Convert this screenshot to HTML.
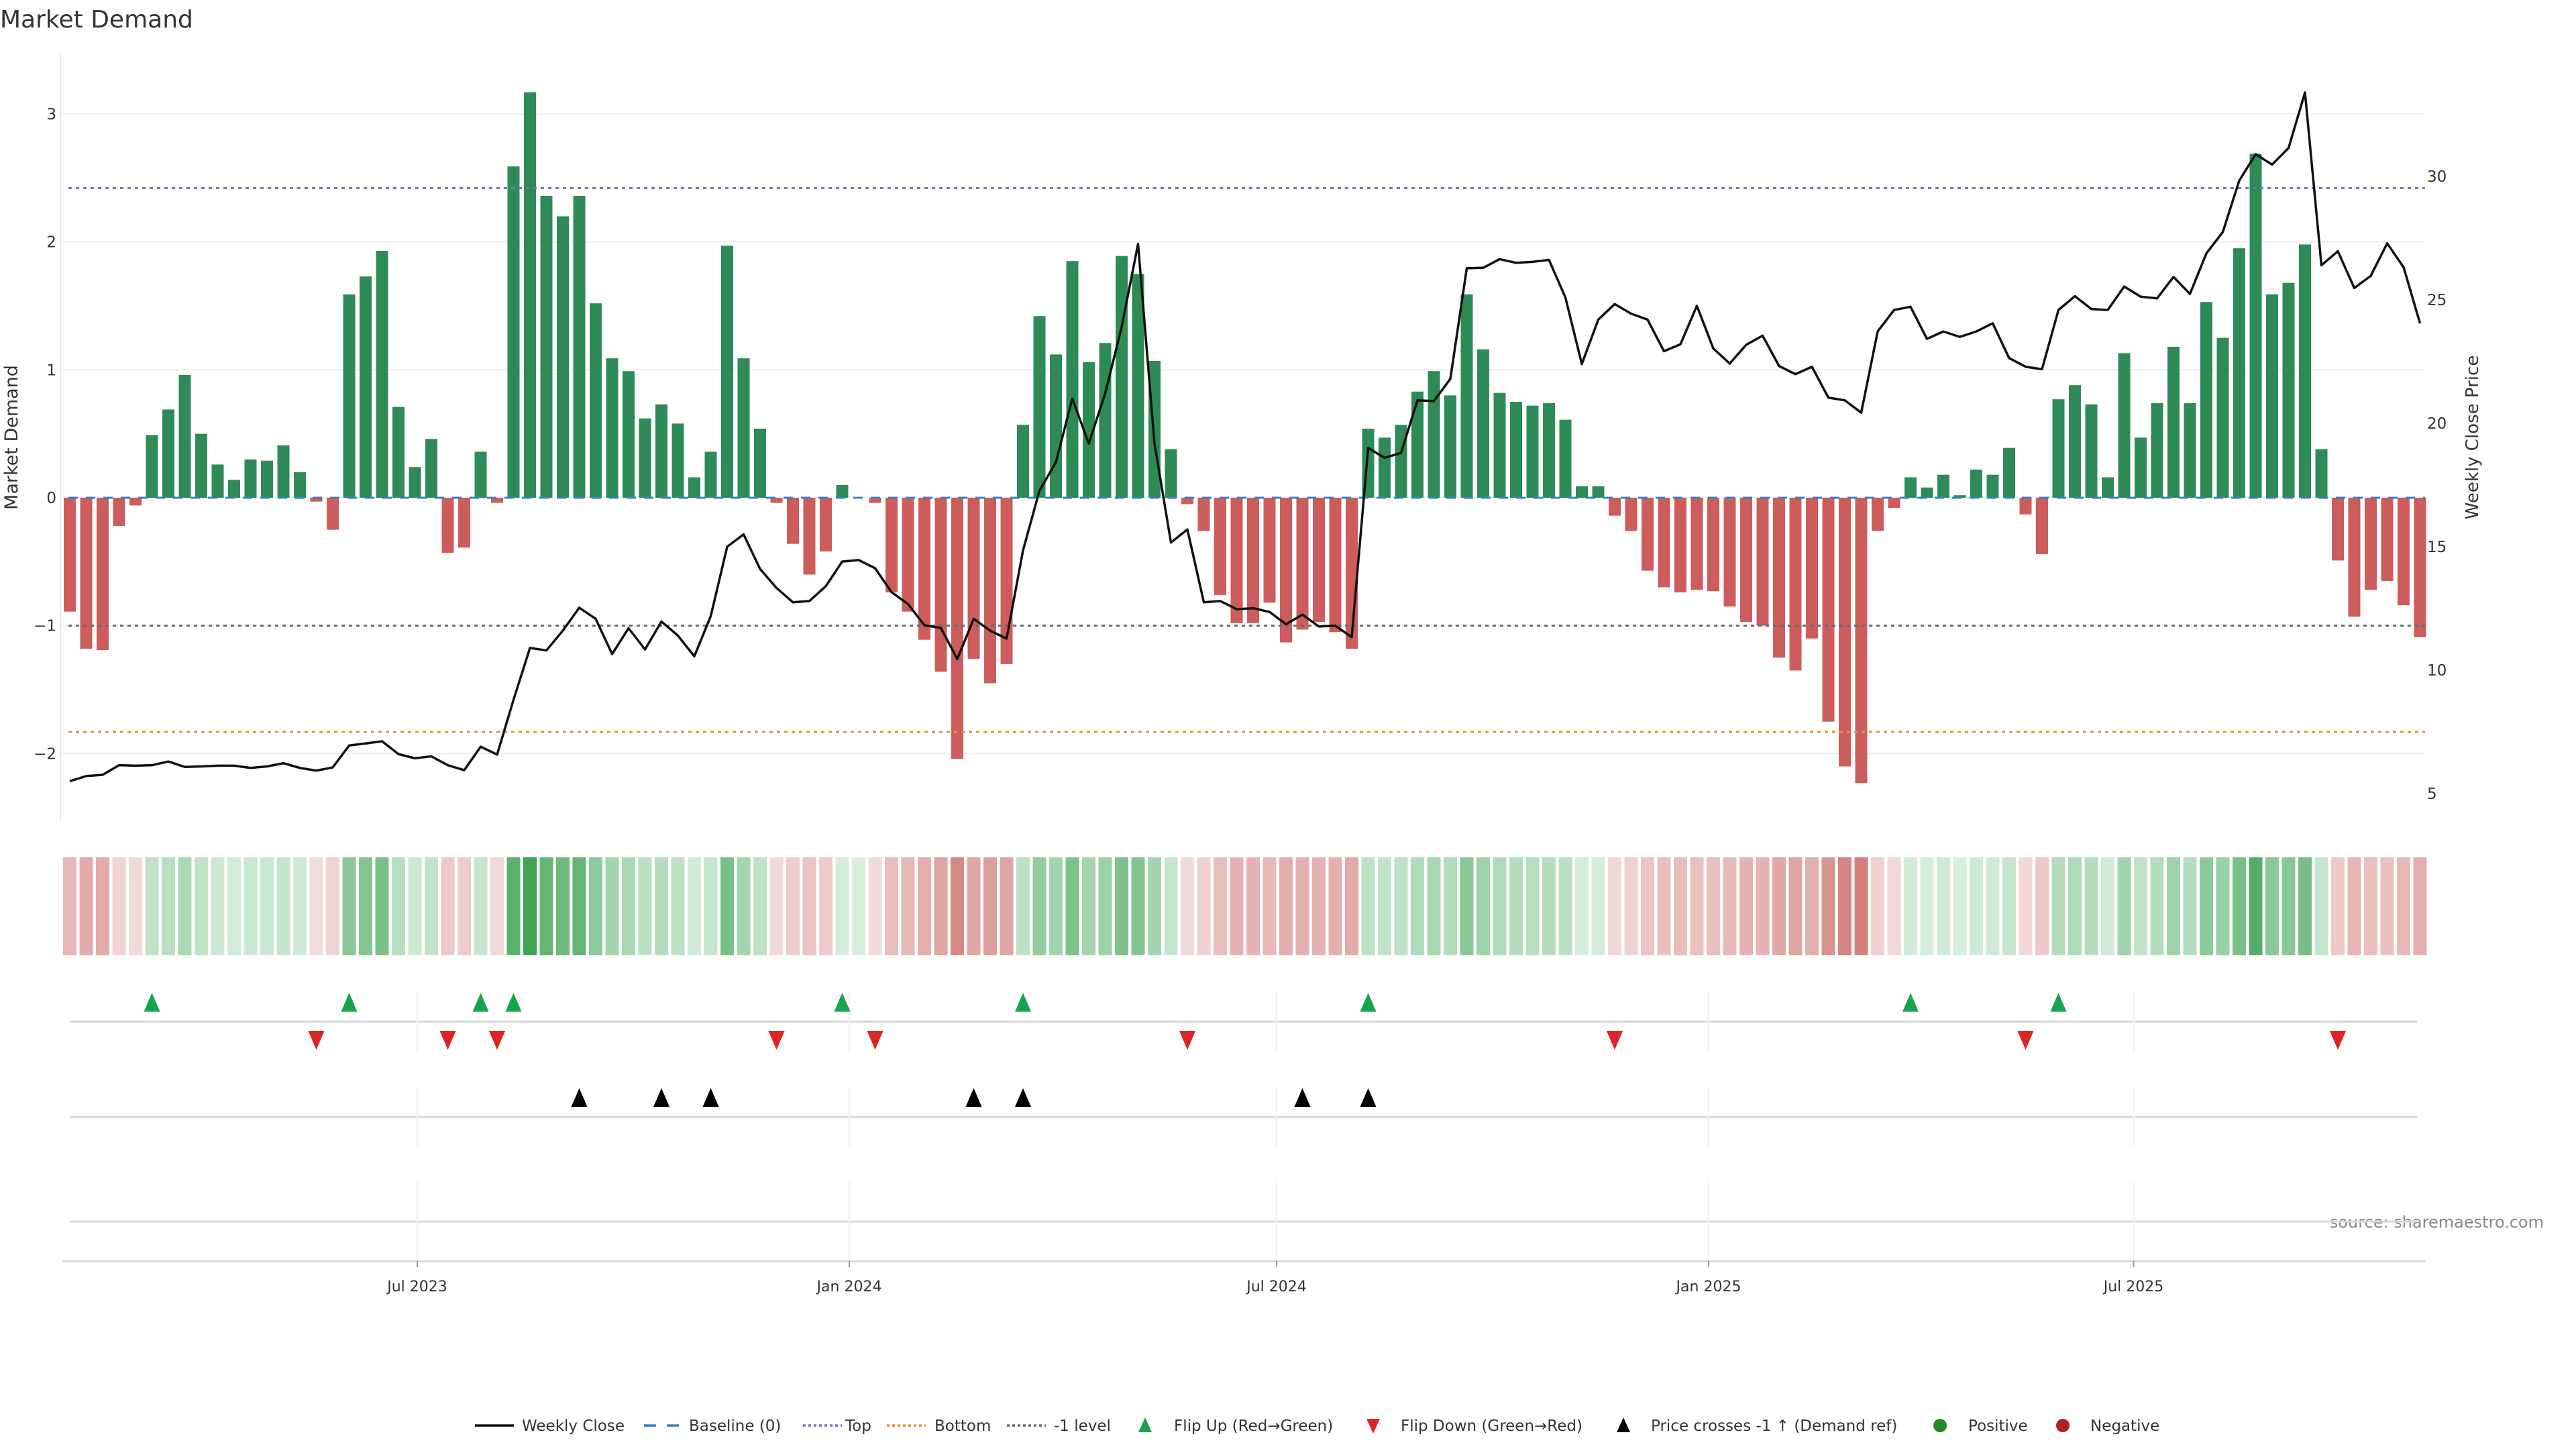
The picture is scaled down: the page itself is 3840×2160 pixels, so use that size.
<!DOCTYPE html>
<html><head><meta charset="utf-8"><style>
html,body{margin:0;padding:0;background:#fff;}
svg{display:block;font-family:"DejaVu Sans","Liberation Sans",sans-serif;}
</style></head><body>
<svg id="chart" width="3840" height="2160" viewBox="0 0 3840 2160" xmlns="http://www.w3.org/2000/svg">
<rect width="3840" height="2160" fill="#fff"/>
<text x="0" y="41" font-size="36" fill="#333">Market Demand</text>
<text transform="translate(26,652) rotate(-90)" text-anchor="middle" font-size="27" fill="#333">Market Demand</text>
<text transform="translate(3694,652) rotate(-90)" text-anchor="middle" font-size="26" fill="#333">Weekly Close Price</text>
<text x="3792" y="1830" text-anchor="end" font-size="24" fill="#888">source: sharemaestro.com</text>
<g id="grid"></g><g id="heat"></g><g id="bars"></g><g id="refs"></g><g id="price"></g><g id="events"></g><g id="axes"></g><g id="legend"></g>
</svg>
<script>
const demand = [-0.89,-1.18,-1.19,-0.22,-0.06,0.49,0.69,0.96,0.50,0.26,0.14,0.30,0.29,0.41,0.20,-0.03,-0.25,1.59,1.73,1.93,0.71,0.24,0.46,-0.43,-0.39,0.36,-0.04,2.59,3.17,2.36,2.20,2.36,1.52,1.09,0.99,0.62,0.73,0.58,0.16,0.36,1.97,1.09,0.54,-0.04,-0.36,-0.60,-0.42,0.10,0,
-0.04,-0.74,-0.89,-1.11,-1.36,-2.04,-1.26,-1.45,-1.30,0.57,1.42,1.12,1.85,1.06,1.21,1.89,1.75,1.07,0.38,-0.05,-0.26,-0.76,-0.98,-0.98,-0.82,-1.13,-1.03,-0.97,-1.05,-1.18,0.54,0.47,0.57,0.83,0.99,0.80,1.59,1.16,0.82,0.75,0.72,0.74,0.61,0.09,0.09,-0.14,-0.26,-0.57,-0.70,-0.74,-0.72,
-0.73,-0.85,-0.97,-1.00,-1.25,-1.35,-1.10,-1.75,-2.10,-2.23,-0.26,-0.08,0.16,0.08,0.18,0.02,0.22,0.18,0.39,-0.13,-0.44,0.77,0.88,0.73,0.16,1.13,0.47,0.74,1.18,0.74,1.53,1.25,1.95,2.69,1.59,1.68,1.98,0.38,-0.49,-0.93,-0.72,-0.65,-0.84,-1.09];
const price = [5.5,5.71,5.76,6.15,6.13,6.15,6.3,6.08,6.1,6.13,6.13,6.04,6.1,6.23,6.04,5.93,6.06,6.95,7.03,7.12,6.6,6.43,6.51,6.15,5.95,6.9,6.58,8.8,10.9,10.8,11.6,12.53,12.08,10.65,11.7,10.84,11.97,11.4,10.56,12.19,15.0,15.5,14.1,13.33,12.75,12.8,13.4,14.4,14.46,
14.13,13.16,12.68,11.82,11.71,10.45,12.08,11.6,11.28,14.85,17.27,18.42,21.0,19.18,21.21,23.9,27.27,19.18,15.17,15.7,12.75,12.8,12.47,12.51,12.36,11.86,12.25,11.77,11.8,11.34,19.0,18.6,18.8,20.93,20.9,21.8,26.28,26.3,26.65,26.5,26.54,26.62,25.1,22.4,24.2,24.83,24.44,24.2,22.92,23.2,24.76,
23.03,22.42,23.18,23.55,22.32,21.99,22.29,21.04,20.93,20.43,23.72,24.59,24.72,23.42,23.72,23.5,23.72,24.05,22.64,22.29,22.19,24.59,25.15,24.63,24.59,25.54,25.13,25.06,25.93,25.24,26.88,27.75,29.83,30.9,30.48,31.15,33.4,26.4,26.97,25.48,25.97,27.29,26.32,24.05];
const flipUpIdx = [5,17,25,27,47,58,79,112,121];
const flipDownIdx = [15,23,26,43,49,68,94,119,138];
const crossIdx = [31,36,39,55,58,75,79];
const leftTicks = [-2,-1,0,1,2,3];
const rightTicks = [5,10,15,20,25,30];
const dateTickLabels = ["Jul 2023","Jan 2024","Jul 2024","Jan 2025","Jul 2025"];
const dateTickDates = ["2023-07-01","2024-01-01","2024-07-01","2025-01-01","2025-07-01"];
const refTop = 2.42, refBottom = -1.83, refMinus1 = -1;
const firstWeek = "2023-02-03";

const NS="http://www.w3.org/2000/svg";
const X0=104, PITCH=24.5, BW=18, PL=90, PR=3615;
const xi=i=>X0+i*PITCH;
const y=v=>742-190.7*v;
const y2=p=>263+(30-p)*36.8;
const xd=d=>X0+((new Date(d)-new Date(firstWeek))/86400000)/7*PITCH;
function mk(tag,attrs,parent){const e=document.createElementNS(NS,tag);for(const k in attrs)e.setAttribute(k,attrs[k]);parent.appendChild(e);return e;}
const G=id=>document.getElementById(id);

const grid=G('grid');
leftTicks.forEach(t=>{const l=mk('line',{x1:PL,x2:PR,y1:y(t),y2:y(t),stroke:'#eceff2','stroke-width':2},grid);


const tx=mk('text',{x:84,y:y(t)+8,'text-anchor':'end','font-size':23,fill:'#333'},grid);


tx.textContent=t<0?'\u2212'+Math.abs(t):String(t);});
rightTicks.forEach(t=>{const tx=mk('text',{x:3618,y:y2(t)+8,'font-size':23,fill:'#333'},grid);


tx.textContent=String(t);});
const ax=mk('line',{x1:PL,x2:PL,y1:80,y2:1224,stroke:'#e6e8eb','stroke-width':2},grid);



const heat=G('heat');
function mix(a,b,t){return 'rgb('+a.map((c,i)=>Math.round(c+(b[i]-c)*t)).join(',')+')';}
demand.forEach((v,i)=>{let c;
if(v>=0)c=mix([216,239,222],[60,162,80],Math.min(v/3.2,1));else c=mix([243,220,220],[210,125,120],Math.min(-v/2.3,1));
const r=mk('rect',{x:xi(i)-10,y:1278,width:20,height:146,fill:c},heat);

});

const bars=G('bars');
demand.forEach((v,i)=>{if(v===0)return;const top=Math.min(y(v),y(0)),h=Math.abs(y(v)-y(0));
const r=mk('rect',{x:xi(i)-BW/2,y:top,width:BW,height:h,fill:v>0?'#2e8b57':'#cd5c5c'},bars);

});

const refs=G('refs');
[[0,'#3a80b8','14 12',3,'baseline-line'],[refTop,'#7a6ad8','5 6',3,'top-line'],[refBottom,'#e8922e','5 6',3,'bottom-line'],[refMinus1,'#666a78','5 6',3,'minus1-line']].forEach(a=>{
const l=mk('line',{x1:PL+12,x2:PR,y1:y(a[0]),y2:y(a[0]),stroke:a[1],'stroke-dasharray':a[2],'stroke-width':a[3]},refs);

});

const pl=mk('polyline',{points:price.map((p,i)=>xi(i)+','+y2(p)).join(' '),fill:'none',stroke:'#111','stroke-width':3.5,'stroke-linejoin':'round'},G('price'));



const ev=G('events');
[1523,1665,1821].forEach(yy=>{const l=mk('line',{x1:104,x2:3603,y1:yy,y2:yy,stroke:'#d4d7db','stroke-width':3},ev);

});
dateTickDates.forEach(d=>{const x=xd(d);[[1478,1567],[1622,1709],[1762,1880]].forEach(s=>{
const l=mk('line',{x1:x,x2:x,y1:s[0],y2:s[1],stroke:'#eef0f3','stroke-width':2},ev);

});});
function tri(x,cy,up,fill,name){const h=14,w=12;
const pts=up?[[x,cy-h],[x-w,cy+h],[x+w,cy+h]]:[[x,cy+h],[x-w,cy-h],[x+w,cy-h]];
const p=mk('polygon',{points:pts.map(q=>q.join(',')).join(' '),fill:fill},ev);

}
flipUpIdx.forEach(i=>tri(xi(i),1494,true,'#17a34a','flip-up-marker'));
flipDownIdx.forEach(i=>tri(xi(i),1551,false,'#dc2626','flip-down-marker'));
crossIdx.forEach(i=>tri(xi(i),1636,true,'#000','price-cross-marker'));

const axes=G('axes');
const xl=mk('line',{x1:94,x2:PR,y1:1880,y2:1880,stroke:'#d0d3d7','stroke-width':3},axes);


dateTickDates.forEach((d,k)=>{const x=xd(d);
const t=mk('line',{x1:x,x2:x,y1:1880,y2:1889,stroke:'#999','stroke-width':2},axes);


const tx=mk('text',{x:x,y:1925,'text-anchor':'middle','font-size':22,fill:'#333'},axes);


tx.textContent=dateTickLabels[k];});

const lg=G('legend');const LY=2125;
function ltext(x,s){const t=mk('text',{x:x,y:LY+8,'font-size':23,fill:'#333'},lg);


t.textContent=s;}
function lline(x,c,dash,name){const l=mk('line',{x1:x,x2:x+58,y1:LY,y2:LY,stroke:c,'stroke-width':3.5,'stroke-dasharray':dash},lg);

}
lline(708,'#111','none','legend-weekly-close');ltext(778,'Weekly Close');
lline(960,'#3a80b8','18 16','legend-baseline');ltext(1027,'Baseline (0)');
lline(1197,'#7a6ad8','4 4','legend-top');ltext(1260,'Top');
lline(1322,'#e8922e','4 4','legend-bottom');ltext(1393,'Bottom');
lline(1501,'#666a78','4 4','legend-minus1');ltext(1571,'-1 level');
function ltri(x,up,c,name){const pts=up?[[x,LY-12],[x-10,LY+10],[x+10,LY+10]]:[[x,LY+12],[x-10,LY-10],[x+10,LY-10]];
const p=mk('polygon',{points:pts.map(q=>q.join(',')).join(' '),fill:c},lg);

}
ltri(1707,true,'#17a34a','legend-flip-up');ltext(1750,'Flip Up (Red\u2192Green)');
ltri(2047,false,'#dc2626','legend-flip-down');ltext(2088,'Flip Down (Green\u2192Red)');
ltri(2420,true,'#000','legend-price-cross');ltext(2461,'Price crosses -1 \u2191 (Demand ref)');
function ldot(x,c,name){const e=mk('circle',{cx:x,cy:LY,r:10,fill:c},lg);

}
ldot(2892,'#228b22','legend-positive');ltext(2934,'Positive');
ldot(3075,'#b22222','legend-negative');ltext(3116,'Negative');
</script>
</body></html>
